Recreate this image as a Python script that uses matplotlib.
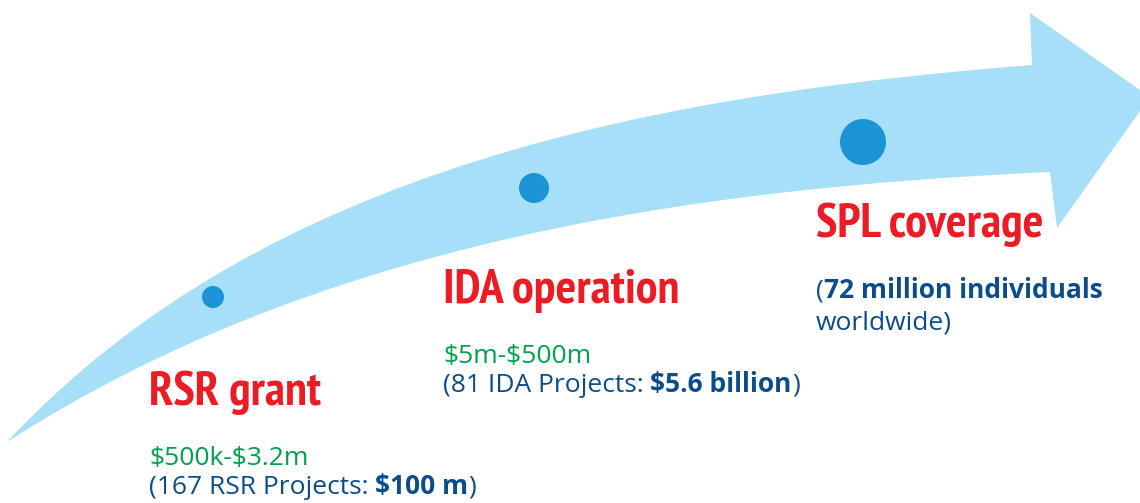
import numpy as np
import matplotlib
matplotlib.use("Agg")
import matplotlib.pyplot as plt
from matplotlib import font_manager
from matplotlib.path import Path
from matplotlib.patches import PathPatch, Circle

# Stages along the arrow
stages = ["RSR grant", "IDA operation", "SPL coverage"]
ranges = ["$500k-$3.2m", "$5m-$500m", ""]
note_prefix = ["(167 RSR Projects: ", "(81 IDA Projects: ", "("]
note_bold = ["$100 m", "$5.6 billion", "72 million individuals"]
note_suffix = [")", ")", ""]
note_extra = ["", "", "worldwide)"]

# Colours
ARROW = "#a6dff7"
DOT = "#1a94d4"
RED = "#ed1c24"
GREEN = "#00a14b"
NAVY = "#0b4c8a"

installed = {f.name for f in font_manager.fontManager.ttflist}
head_candidates = ["PT Sans Narrow", "Fira Sans Condensed", "Asap Condensed",
                   "Barlow Condensed", "DejaVu Sans"]
HEAD_FONT = [f for f in head_candidates if f in installed][0]
BODY_FONT = ["Open Sans", "DejaVu Sans"]

# Layout in pixel units (y grows downward)
upper_edge = np.array([(7, 442), (33, 417), (100, 357), (167, 303), (233, 260),
                       (333, 218), (450, 173), (583, 132), (717, 100),
                       (900, 78), (1032, 65)], dtype=float)
lower_edge = np.array([(7, 442), (67, 408), (150, 363), (233, 322), (333, 288),
                       (450, 254), (583, 223), (717, 200), (900, 182),
                       (1050, 172)], dtype=float)
head = [(1030, 13), (1150, 97), (1057, 228)]

dot_xy = [(213, 297), (534, 188), (863, 142)]
dot_r = [11, 15, 23]

text_x = [149, 443, 816]
head_y = [405, 303, 237]
range_y = [465, 363, None]
note_y = [494, 392, 298]
extra_y = [None, None, 330]


def fit_bezier(pts):
    # least-squares cubic bezier with fixed end points
    d = np.r_[0, np.cumsum(np.hypot(*np.diff(pts, axis=0).T))]
    t = d / d[-1]
    p0, p3 = pts[0], pts[-1]
    b0, b1 = (1 - t) ** 3, 3 * t * (1 - t) ** 2
    b2, b3 = 3 * t ** 2 * (1 - t), t ** 3
    rhs = pts - np.outer(b0, p0) - np.outer(b3, p3)
    A = np.column_stack([b1, b2])
    sol = np.linalg.lstsq(A, rhs, rcond=None)[0]
    return [tuple(sol[0]), tuple(sol[1]), tuple(p3)]


fig = plt.figure(figsize=(11.4, 5.03), dpi=100)
ax = fig.add_axes([0, 0, 1, 1])
ax.set_xlim(0, 1140)
ax.set_ylim(503, 0)
ax.axis("off")

verts = [tuple(upper_edge[0])] + fit_bezier(upper_edge) + head
codes = [Path.MOVETO] + [Path.CURVE4] * 3 + [Path.LINETO] * len(head)
verts.append(tuple(lower_edge[-1]))
codes.append(Path.LINETO)
verts += fit_bezier(lower_edge[::-1])
codes += [Path.CURVE4] * 3
verts.append(tuple(upper_edge[0]))
codes.append(Path.CLOSEPOLY)
ax.add_patch(PathPatch(Path(verts, codes), facecolor=ARROW, edgecolor="none"))

for (x, y), r in zip(dot_xy, dot_r):
    ax.add_patch(Circle((x, y), r, facecolor=DOT, edgecolor="none"))

for i, name in enumerate(stages):
    x = text_x[i]
    ax.text(x, head_y[i], name, color=RED, fontsize=35, fontweight="bold",
            family=HEAD_FONT, va="baseline", ha="left")
    if ranges[i]:
        ax.text(x, range_y[i], ranges[i], color=GREEN, fontsize=19,
                family=BODY_FONT, va="baseline", ha="left", parse_math=False)
    t1 = ax.text(x, note_y[i], note_prefix[i], color=NAVY, fontsize=19,
                 family=BODY_FONT, va="baseline", ha="left", parse_math=False)
    t2 = ax.annotate(note_bold[i], xy=(1, 0), xycoords=t1, color=NAVY,
                     fontsize=19, fontweight="bold", family=BODY_FONT,
                     va="bottom", ha="left", parse_math=False)
    if note_suffix[i]:
        ax.annotate(note_suffix[i], xy=(1, 0), xycoords=t2, color=NAVY,
                    fontsize=19, family=BODY_FONT, va="bottom", ha="left",
                    parse_math=False)
    if note_extra[i]:
        ax.text(x, extra_y[i], note_extra[i], color=NAVY, fontsize=19,
                family=BODY_FONT, va="baseline", ha="left", parse_math=False)

fig.savefig("out.png", dpi=100)
